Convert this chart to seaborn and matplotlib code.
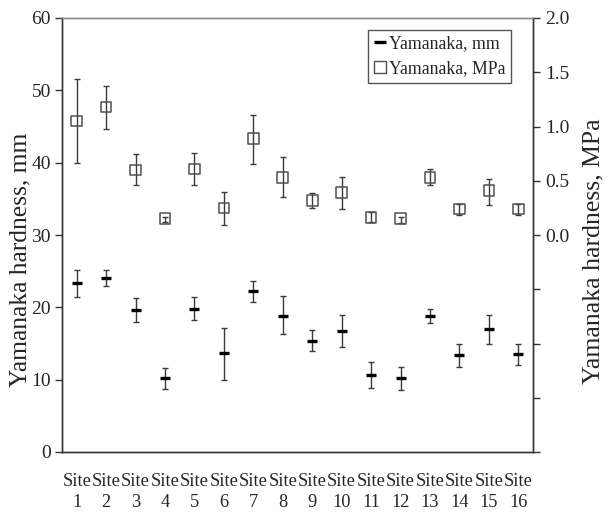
import numpy as np
import pandas as pd
import matplotlib
matplotlib.use("Agg")
import matplotlib.pyplot as plt
import seaborn as sns
from matplotlib.lines import Line2D

sites = [f"Site\n{i}" for i in range(1, 17)]
mm_mean = [23.3, 24.0, 19.7, 10.2, 19.8, 13.7, 22.2, 18.8, 15.4, 16.7, 10.7, 10.2, 18.8, 13.4, 17.0, 13.5]
mm_low = [21.4, 22.9, 18.0, 8.7, 18.2, 10.0, 20.7, 16.3, 13.9, 14.5, 8.8, 8.6, 17.8, 11.7, 14.9, 12.0]
mm_high = [25.2, 25.1, 21.3, 11.6, 21.4, 17.2, 23.7, 21.5, 16.8, 18.9, 12.4, 11.7, 19.8, 14.9, 18.9, 14.9]
mpa_mean = [1.05, 1.18, 0.60, 0.15, 0.61, 0.25, 0.89, 0.53, 0.32, 0.39, 0.16, 0.15, 0.53, 0.24, 0.41, 0.24]
mpa_low = [0.66, 0.98, 0.46, 0.12, 0.46, 0.09, 0.65, 0.35, 0.25, 0.24, 0.12, 0.11, 0.46, 0.18, 0.28, 0.18]
mpa_high = [1.44, 1.37, 0.75, 0.17, 0.76, 0.40, 1.11, 0.72, 0.39, 0.53, 0.21, 0.17, 0.61, 0.29, 0.52, 0.29]

df = pd.DataFrame({"site": sites, "x": np.arange(len(sites)),
                   "mm": mm_mean, "mm_lo": mm_low, "mm_hi": mm_high,
                   "mpa": mpa_mean, "mpa_lo": mpa_low, "mpa_hi": mpa_high})

sns.set_style("white")
plt.rcParams["font.family"] = ["Liberation Serif", "DejaVu Serif"]
plt.rcParams["font.size"] = 12

fig = plt.figure(figsize=(6.05, 5.14), dpi=100)
L, R, B, T = 62, 533, 452, 18
ax = fig.add_axes([L/605, 1-B/514, (R-L)/605, (B-T)/514])
ax2 = ax.twinx()

errc = "#3a3a3a"
# mm series
ax.errorbar(df["x"], df["mm"], yerr=[df["mm"]-df["mm_lo"], df["mm_hi"]-df["mm"]],
            fmt="none", ecolor=errc, elinewidth=1, capsize=2, capthick=1, zorder=2)
sns.scatterplot(data=df, x="x", y="mm", marker="_", s=60, color="black",
                linewidth=2.4, ax=ax, zorder=3, legend=False)
# MPa series
ax2.errorbar(df["x"], df["mpa"], yerr=[df["mpa"]-df["mpa_lo"], df["mpa_hi"]-df["mpa"]],
             fmt="none", ecolor=errc, elinewidth=1, capsize=2, capthick=1, zorder=2)
sns.scatterplot(data=df, x="x", y="mpa", marker="s", s=58, facecolor="none",
                edgecolor="#505050", linewidth=1.1, ax=ax2, zorder=3, legend=False)

ax.set_xlim(-0.5, 15.5)
ax.set_ylim(0, 60)
ax2.set_ylim(-2, 2)
ax.set_yticks(np.arange(0, 61, 10))
rt = np.arange(-2, 2.01, 0.5)
ax2.set_yticks(rt)
ax2.set_yticklabels([f"{v:.1f}" if v >= -1e-9 else "" for v in rt])

ax.set_xticks(df["x"])
ax.set_xticklabels(df["site"], fontsize=13.2, linespacing=1.35)
ax.set_xticks(np.arange(-0.5, 15.6, 1), minor=True)
ax.tick_params(axis="x", which="major", length=0, pad=15)
ax.tick_params(axis="x", which="minor", length=5, width=1, color="#333333", direction="inout")
ax.tick_params(axis="y", length=5, width=1, color="#333333", direction="out", labelsize=14, pad=3)
ax2.tick_params(axis="y", length=5, width=1, color="#333333", direction="out", labelsize=14, pad=4)

for a in (ax, ax2):
    a.spines["left"].set_color("#333333")
    a.spines["bottom"].set_color("#333333")
    a.spines["right"].set_color("#333333")
    a.spines["top"].set_color("#888888")
    for s in a.spines.values():
        s.set_linewidth(1)
ax.set_xlabel("")
ax.set_ylabel("Yamanaka hardness, mm", fontsize=18.4)
ax2.set_ylabel("Yamanaka hardness, MPa", fontsize=18.5)
ax.yaxis.set_label_coords((31-L)/(R-L), (B-260)/(B-T))
ax2.yaxis.set_label_coords((582-L)/(R-L), (B-251)/(B-T))

handles = [Line2D([], [], marker="_", color="black", linestyle="none", markersize=8.5, markeredgewidth=2.4),
           Line2D([], [], marker="s", markerfacecolor="none", markeredgecolor="#505050",
                  linestyle="none", markersize=8.5, markeredgewidth=1)]
leg = ax.legend(handles, ["Yamanaka, mm", "Yamanaka, MPa"], loc="upper left",
                bbox_to_anchor=((368-L)/(R-L), 1-(30-T)/(B-T)), fontsize=12.8, frameon=True,
                fancybox=False, edgecolor="#555555", handlelength=0.7, handletextpad=0.2,
                borderpad=0.3, labelspacing=0.45, borderaxespad=0, framealpha=1)
leg.get_frame().set_linewidth(1)

fig.savefig("out.png", dpi=100)
